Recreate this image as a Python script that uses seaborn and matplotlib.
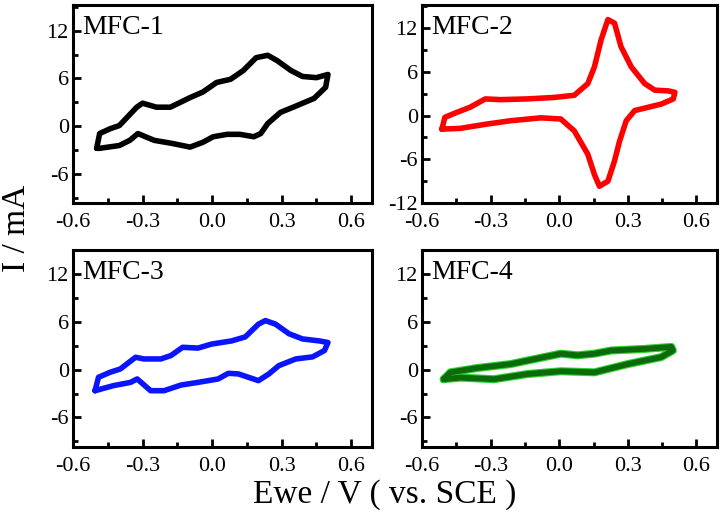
import numpy as np
import pandas as pd
import matplotlib
matplotlib.use("Agg")
import matplotlib.pyplot as plt
import matplotlib.patheffects as pe
from matplotlib.ticker import MultipleLocator
import seaborn as sns

# CV loops (potential V, current mA)
mfc1_v = [-0.498, -0.485, -0.44, -0.40, -0.325, -0.30, -0.24, -0.18, -0.095, -0.04,
          0.02, 0.08, 0.135, 0.19, 0.24, 0.28, 0.34, 0.39, 0.45, 0.50,
          0.49, 0.44, 0.35, 0.295, 0.24, 0.21, 0.18, 0.12, 0.065, 0.005,
          -0.04, -0.095, -0.17, -0.25, -0.32, -0.355, -0.40, -0.485, -0.498]
mfc1_i = [-2.75, -0.9, -0.3, 0.1, 2.4, 2.9, 2.4, 2.4, 3.6, 4.3,
          5.5, 5.9, 7.0, 8.6, 8.9, 8.25, 7.0, 6.25, 6.1, 6.5,
          4.9, 3.5, 2.4, 1.75, 0.35, -0.9, -1.3, -1.0, -1.0, -1.3,
          -2.0, -2.6, -2.15, -1.75, -0.9, -1.75, -2.4, -2.75, -2.75]

mfc2_v = [-0.513, -0.50, -0.447, -0.39, -0.323, -0.257, -0.14, -0.022, 0.066, 0.125,
          0.154, 0.183, 0.213, 0.242, 0.27, 0.315, 0.374, 0.418, 0.477, 0.506,
          0.499, 0.447, 0.389, 0.33, 0.293, 0.264, 0.242, 0.213, 0.176, 0.154,
          0.125, 0.066, 0.007, -0.08, -0.213, -0.315, -0.433, -0.513]
mfc2_i = [-1.85, -0.23, 0.46, 1.15, 2.3, 2.2, 2.3, 2.5, 2.8, 4.4,
          6.7, 10.4, 13.2, 12.7, 9.5, 6.7, 4.4, 3.5, 3.4, 3.2,
          2.3, 1.6, 1.15, 0.7, -0.7, -3.5, -6.2, -9.0, -9.7, -8.1,
          -5.3, -2.1, -0.46, -0.3, -0.7, -1.15, -1.75, -1.85]

mfc3_v = [-0.505, -0.49, -0.44, -0.396, -0.33, -0.294, -0.221, -0.178, -0.127, -0.061,
          -0.003, 0.084, 0.143, 0.20, 0.23, 0.274, 0.332, 0.39, 0.463, 0.50,
          0.485, 0.434, 0.361, 0.288, 0.245, 0.20, 0.157, 0.114, 0.07, 0.026,
          -0.061, -0.134, -0.207, -0.265, -0.323, -0.352, -0.425, -0.505]
mfc3_i = [-2.64, -0.96, -0.33, 0.08, 1.55, 1.34, 1.34, 1.76, 2.8, 2.7,
          3.2, 3.6, 4.1, 5.7, 6.15, 5.7, 4.5, 3.85, 3.6, 3.4,
          2.4, 1.6, 1.34, 0.5, -0.54, -1.38, -0.96, -0.54, -0.46, -1.17,
          -1.6, -1.93, -2.64, -2.64, -1.17, -1.6, -2.0, -2.64]

mfc4_v = [-0.505, -0.476, -0.359, -0.212, -0.066, 0.007, 0.08, 0.154, 0.227, 0.373,
          0.49, 0.497, 0.446, 0.30, 0.154, 0.007, -0.139, -0.285, -0.432, -0.505]
mfc4_i = [-1.2, -0.34, 0.2, 0.7, 1.57, 2.0, 1.8, 2.0, 2.4, 2.6,
          2.85, 2.4, 1.57, 0.7, -0.34, -0.2, -0.55, -1.2, -1.0, -1.2]

labels = ["MFC-1", "MFC-2", "MFC-3", "MFC-4"]
colors = ["#000000", "#ff0000", "#0a14ff", "#0b6b0b"]
ylims = [(-9.6, 15.2), (-12, 15.2), (-9.7, 15.0), (-9.7, 15.0)]
yticks = [[-6, 0, 6, 12], [-12, -6, 0, 6, 12], [-6, 0, 6, 12], [-6, 0, 6, 12]]

sns.set_theme(style="ticks")
plt.rcParams["font.family"] = ["Liberation Serif", "DejaVu Serif"]
plt.rcParams["axes.unicode_minus"] = False
plt.rcParams["text.color"] = "black"

fig = plt.figure(figsize=(7.24, 5.19), dpi=100)
W, H = 724, 519
boxes = [(73, 5, 372, 203), (422, 5, 717, 203), (73, 250, 372, 447), (422, 250, 717, 447)]

loops = [(mfc1_v, mfc1_i), (mfc2_v, mfc2_i), (mfc3_v, mfc3_i), (mfc4_v, mfc4_i)]
for k, (l, t, r, b) in enumerate(boxes):
    ax = fig.add_axes([l / W, 1 - b / H, (r - l) / W, (b - t) / H])
    df = pd.DataFrame({"E": loops[k][0], "I": loops[k][1]})
    effects = None
    if k == 3:
        effects = [pe.Stroke(linewidth=5.8, foreground="#2ed12e"), pe.Normal()]
    sns.lineplot(data=df, x="E", y="I", sort=False, estimator=None, ax=ax,
                 color=colors[k], linewidth=4 if k < 3 else 4.2,
                 solid_joinstyle="round", solid_capstyle="round",
                 path_effects=effects)
    ax.set_xlim(-0.6, 0.69)
    ax.set_ylim(*ylims[k])
    ax.set_xticks([-0.6, -0.3, 0.0, 0.3, 0.6])
    ax.set_xticklabels(["-0.6", "-0.3", "0.0", "0.3", "0.6"])
    ax.set_yticks(yticks[k])
    ax.xaxis.set_minor_locator(MultipleLocator(0.15))
    ax.yaxis.set_minor_locator(MultipleLocator(3))
    ax.tick_params(which="both", direction="in", width=2, labelsize=16,
                   top=False, right=False, colors="black", labelcolor="black")
    ax.tick_params(which="major", length=6)
    ax.tick_params(which="minor", length=3.5)
    ax.tick_params(axis="x", pad=7)
    ax.tick_params(axis="y", pad=3)
    for s in ax.spines.values():
        s.set_linewidth(2.2)
        s.set_color("black")
        s.set_visible(True)
    ax.set_xlabel("")
    ax.set_ylabel("")
    ax.text(0.03, 0.95, labels[k], transform=ax.transAxes, fontsize=20,
            ha="left", va="top", color="black")

fig.text(17 / W, 1 - 228 / H, "I / mA", rotation=90, fontsize=24,
         ha="center", va="center", color="black")
fig.text(385 / W, 1 - 495 / H, "Ewe / V ( vs. SCE )", fontsize=24,
         ha="center", va="center", color="black")

fig.savefig("out.png", dpi=100)
